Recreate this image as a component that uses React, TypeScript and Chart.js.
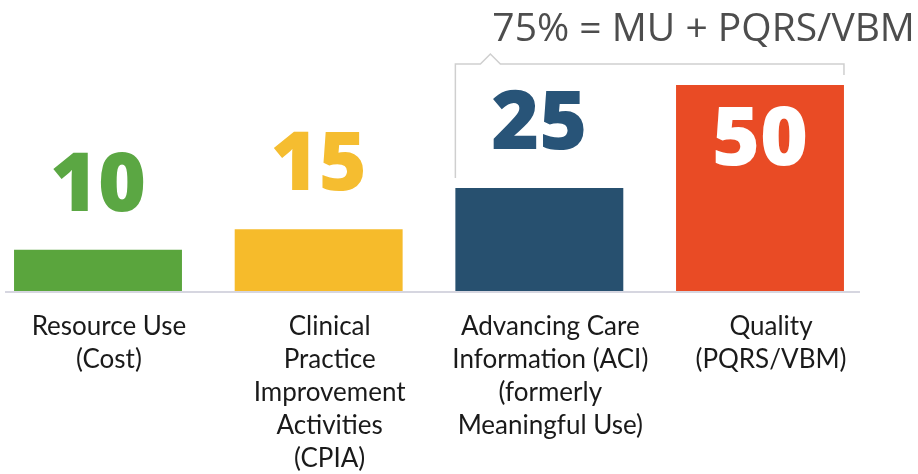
import React, { useEffect, useRef } from "react";
import { Chart, registerables } from "chart.js";

Chart.register(...registerables);

const CATEGORIES: string[][] = [
  ["Resource Use", "(Cost)"],
  ["Clinical", "Practice", "Improvement", "Activities", "(CPIA)"],
  ["Advancing Care", "Information (ACI)", "(formerly", "Meaningful Use)"],
  ["Quality", "(PQRS/VBM)"],
];
const VALUES: number[] = [10, 15, 25, 50];
const BAR_COLORS: string[] = ["#5aa53d", "#f6bb2b", "#27506f", "#e94b25"];
const LABEL_COLORS: string[] = ["#5ba743", "#f5bd30", "#285478", "#ffffff"];
const BRACKET_TEXT = "75% = MU + PQRS/VBM";

const decorPlugin = {
  id: "decor",
  beforeDatasetsDraw(chart: any) {
    const ctx = chart.ctx;
    const bars = chart.getDatasetMeta(0).data;
    const first = bars[0];
    const last = bars[bars.length - 1];
    ctx.save();
    ctx.strokeStyle = "#d6d6e0";
    ctx.lineWidth = 2;
    ctx.beginPath();
    ctx.moveTo(first.x - first.width / 2 - 9, first.base + 1);
    ctx.lineTo(last.x + last.width / 2 + 16, first.base + 1);
    ctx.stroke();
    ctx.restore();
  },
  afterDatasetsDraw(chart: any) {
    const ctx = chart.ctx;
    const bars = chart.getDatasetMeta(0).data;
    const area = chart.chartArea;
    ctx.save();
    // value labels
    ctx.font = "800 82px 'Open Sans'";
    ctx.textAlign = "center";
    ctx.textBaseline = "alphabetic";
    bars.forEach((b: any, i: number) => {
      let y = b.y - 39;
      if (y - 57 < area.top) {
        y = b.y + 80;
      }
      ctx.fillStyle = LABEL_COLORS[i];
      ctx.fillText(String(VALUES[i]), b.x, y);
    });
    // bracket
    const b3 = bars[2];
    const b4 = bars[3];
    const left = b3.x - b3.width / 2;
    const right = b4.x + b4.width / 2;
    const top = b4.y - 21;
    ctx.strokeStyle = "#cfcfcf";
    ctx.lineWidth = 1.5;
    ctx.beginPath();
    ctx.moveTo(left, b3.y - 10);
    ctx.lineTo(left, top);
    ctx.lineTo(left + 25, top);
    ctx.lineTo(left + 35, top - 10);
    ctx.lineTo(left + 45, top);
    ctx.lineTo(right, top);
    ctx.lineTo(right, top + 11);
    ctx.stroke();
    // bracket text
    ctx.fillStyle = "#4d4d4d";
    ctx.font = "400 39px 'Open Sans'";
    ctx.textAlign = "left";
    ctx.fillText(BRACKET_TEXT, left + 37, top - 23);
    // category labels
    ctx.fillStyle = "#1a1a1a";
    ctx.font = "400 26px Lato";
    ctx.textAlign = "center";
    bars.forEach((b: any, i: number) => {
      CATEGORIES[i].forEach((line, k) => {
        ctx.fillText(line, b.x + 11, b.base + 44 + k * 33);
      });
    });
    ctx.restore();
  },
};

export default function App() {
  const canvasRef = useRef<HTMLCanvasElement | null>(null);
  useEffect(() => {
    if (!canvasRef.current) return;
    const chart = new Chart(canvasRef.current, {
      type: "bar",
      data: {
        labels: CATEGORIES.map((c) => c.join(" ")),
        datasets: [
          {
            data: VALUES,
            backgroundColor: BAR_COLORS,
            borderWidth: 0,
            categoryPercentage: 1,
            barPercentage: 0.761,
            clip: false as any,
          },
        ],
      },
      options: {
        animation: false,
        responsive: true,
        maintainAspectRatio: false,
        layout: { padding: { top: 85, bottom: 183, left: 98, right: 158 } },
        plugins: { legend: { display: false }, tooltip: { enabled: false } },
        scales: {
          x: { display: false, offset: false, grid: { display: false } },
          y: { display: false, min: 0, max: 50 },
        },
      },
      plugins: [decorPlugin],
    });
    return () => chart.destroy();
  }, []);
  return (
    <div style={{ position: "absolute", left: 0, top: 0, width: 918, height: 474, background: "#fff" }}>
      <canvas ref={canvasRef} />
    </div>
  );
}
